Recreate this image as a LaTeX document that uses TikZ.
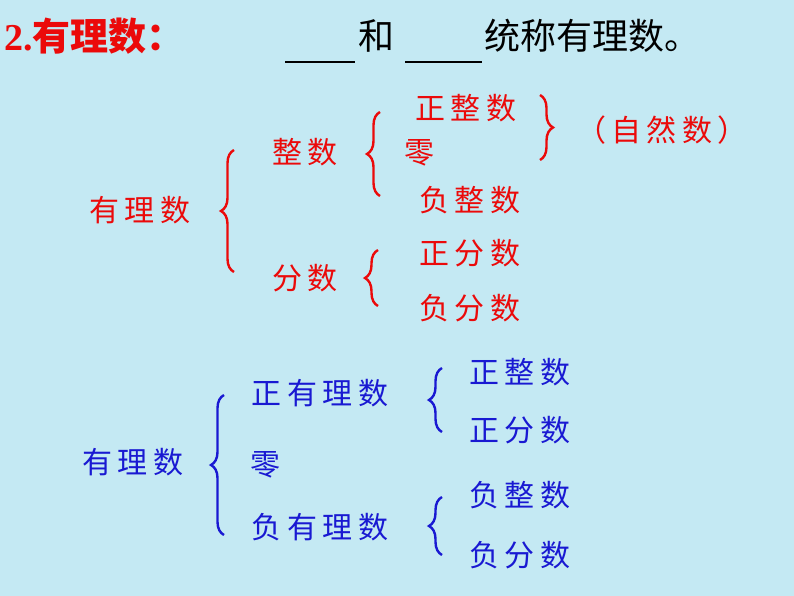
\documentclass[tikz,border=0pt]{standalone}
\usepackage{fontspec}
\setmainfont{Liberation Serif}
\newfontfamily\cjk[LetterSpace=18]{Noto Sans CJK SC}
\newfontfamily\cjkt{Noto Sans CJK SC}
\usetikzlibrary{decorations.pathreplacing}
\definecolor{bg}{RGB}{196,233,243}
\definecolor{rd}{RGB}{235,10,10}
\definecolor{bl}{RGB}{25,25,210}
\begin{document}
\begin{tikzpicture}[x=1pt,y=-1pt,
 t/.style={font=\cjk\fontsize{30}{32}\selectfont,inner sep=0},
 r/.style={t,text=rd}, b/.style={t,text=bl},
 br/.style={draw=#1,line width=2.4pt,decorate,decoration={brace,amplitude=13pt,mirror}},
 brr/.style={draw=#1,line width=2.4pt,decorate,decoration={brace,amplitude=13pt}}]
\fill[bg] (0,0) rectangle (794,596);
\useasboundingbox (0,0) rectangle (794,596);
\node[anchor=west,text=rd,font=\bfseries\fontsize{38}{40}\selectfont,inner sep=0] (h1) at (4,36) {2.{\cjkt 有理数：}};
\draw[line width=1.5pt] (285,62) -- (355,62);
\node[t,anchor=west,font=\cjkt\fontsize{36}{38}\selectfont] (he) at (358,36) {和};
\draw[line width=1.5pt] (405,62) -- (482,62);
\node[t,anchor=west,font=\cjkt\fontsize{36}{38}\selectfont] (h2) at (484,36) {统称有理数。};
% red
\node[r] (q) at (140,210) {有理数};
\node[r] (z) at (305,152) {整数};
\node[r] (f) at (305,278) {分数};
\node[r] (pz) at (466,108) {正整数};
\node[r,anchor=west] (zero) at (404,153) {零};
\node[r] (nz) at (470,200) {负整数};
\node[r] (pf) at (470,253) {正分数};
\node[r] (nf) at (470,308) {负分数};
\node[r] (nat) at (662,130) {（自然数）};
\draw[br=rd] (234,150) -- (234,272);
\draw[br=rd] (380,112) -- (380,196);
\draw[br=rd] (378,250) -- (378,306);
\draw[brr=rd] (540,95) -- (540,160);
% blue
\node[b] (bq) at (133,462) {有理数};
\node[b] (pq) at (320,393) {正有理数};
\node[b,anchor=west] (bzero) at (250,465) {零};
\node[b] (nq) at (320,527) {负有理数};
\node[b] (bpz) at (520,372) {正整数};
\node[b] (bpf) at (520,430) {正分数};
\node[b] (bnz) at (520,495) {负整数};
\node[b] (bnf) at (520,555) {负分数};
\draw[br=bl] (224,395) -- (224,535);
\draw[br=bl] (442,368) -- (442,432);
\draw[br=bl] (442,497) -- (442,555);
\end{tikzpicture}
\end{document}
